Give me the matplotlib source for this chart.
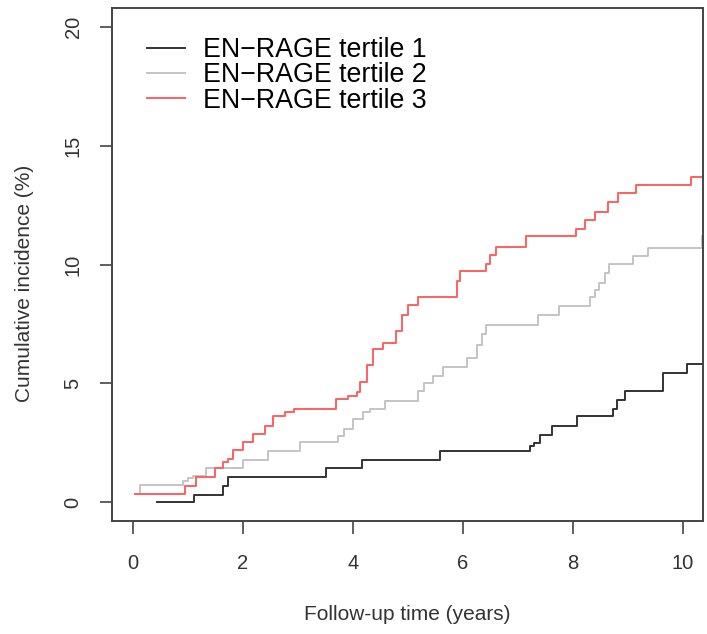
import matplotlib
matplotlib.use("Agg")
from matplotlib import pyplot as plt

plt.rcParams['font.family'] = ['Liberation Sans', 'DejaVu Sans']

# cumulative incidence (%) by follow-up time (years)
t1_time = [0.44, 1.11, 1.65, 1.73, 3.52, 4.16, 5.58, 7.22, 7.30, 7.40, 7.62, 8.07,
           8.72, 8.81, 8.95, 9.63, 10.08, 10.40]
t1_inc = [0.00, 0.32, 0.69, 1.07, 1.42, 1.77, 2.16, 2.35, 2.51, 2.82, 3.21, 3.61,
          3.92, 4.30, 4.66, 5.42, 5.82, 5.82]

t2_time = [0.05, 0.13, 0.91, 1.00, 1.10, 1.33, 2.01, 2.46, 3.04, 3.73, 3.85, 4.00,
           4.19, 4.31, 4.58, 5.19, 5.30, 5.46, 5.64, 6.07, 6.25, 6.35, 6.43, 7.37,
           7.75, 8.31, 8.40, 8.47, 8.58, 8.66, 9.10, 9.37, 10.34, 10.40]
t2_inc = [0.35, 0.72, 0.90, 1.00, 1.11, 1.42, 1.77, 2.16, 2.53, 2.80, 3.07, 3.52,
          3.78, 3.92, 4.27, 4.70, 5.00, 5.32, 5.71, 6.05, 6.60, 7.10, 7.45, 7.87,
          8.27, 8.62, 8.95, 9.25, 9.65, 10.02, 10.37, 10.72, 11.19, 11.19]

t3_time = [0.04, 0.95, 1.16, 1.49, 1.64, 1.73, 1.82, 2.01, 2.19, 2.40, 2.55, 2.76,
           2.93, 3.70, 3.91, 4.07, 4.13, 4.25, 4.37, 4.55, 4.79, 4.89, 5.01, 5.19,
           5.89, 5.95, 6.43, 6.49, 6.61, 7.15, 8.05, 8.22, 8.40, 8.64, 8.82, 9.15,
           10.14, 10.40]
t3_inc = [0.35, 0.69, 1.04, 1.42, 1.67, 1.81, 2.19, 2.54, 2.86, 3.21, 3.61, 3.78,
          3.94, 4.34, 4.48, 4.62, 5.04, 5.77, 6.44, 6.72, 7.21, 7.87, 8.29, 8.64,
          9.32, 9.74, 10.02, 10.40, 10.76, 11.19, 11.52, 11.89, 12.23, 12.64, 13.00, 13.35,
          13.71, 13.71]

labels = ['EN\u2212RAGE tertile 1', 'EN\u2212RAGE tertile 2', 'EN\u2212RAGE tertile 3']
colors = ['#333333', '#c4c4c4', '#ff6060']
x_ticks = [0, 2, 4, 6, 8, 10]
y_ticks = [0, 5, 10, 15, 20]

fig = plt.figure(figsize=(7.07, 6.34), dpi=100)
ax = fig.add_axes([0.158, 0.178, 0.836, 0.809])

series = [(t1_time, t1_inc), (t2_time, t2_inc), (t3_time, t3_inc)]
for (t, v), lab, col in zip(series, labels, colors):
    ax.step(t, v, where='post', color=col, lw=1.4, label=lab)

ax.set_xlim(-0.38, 10.36)
ax.set_ylim(-0.8, 20.8)
ax.set_xticks(x_ticks)
ax.set_yticks(y_ticks)
ax.set_yticklabels([str(y) for y in y_ticks], rotation=90, va='center')
ax.tick_params(axis='both', labelsize=14.5, length=9, width=1.2, color='#444444',
               labelcolor='#333333')
ax.tick_params(axis='x', pad=15)
ax.tick_params(axis='y', pad=12)

for side in ax.spines.values():
    side.set_color('#444444')
    side.set_linewidth(1.4)

ax.set_xlabel('Follow-up time (years)', fontsize=15, color='#333333', labelpad=23)
ax.set_ylabel('Cumulative incidence (%)', fontsize=15, color='#333333', labelpad=21)
ax.yaxis.label.set_y(0.464)

ax.legend(loc='upper left', bbox_to_anchor=(0.042, 0.965), frameon=False, fontsize=19.3,
          handlelength=1.42, handletextpad=0.67, labelspacing=-0.02, borderaxespad=0)

plt.savefig('out.png', dpi=100)
